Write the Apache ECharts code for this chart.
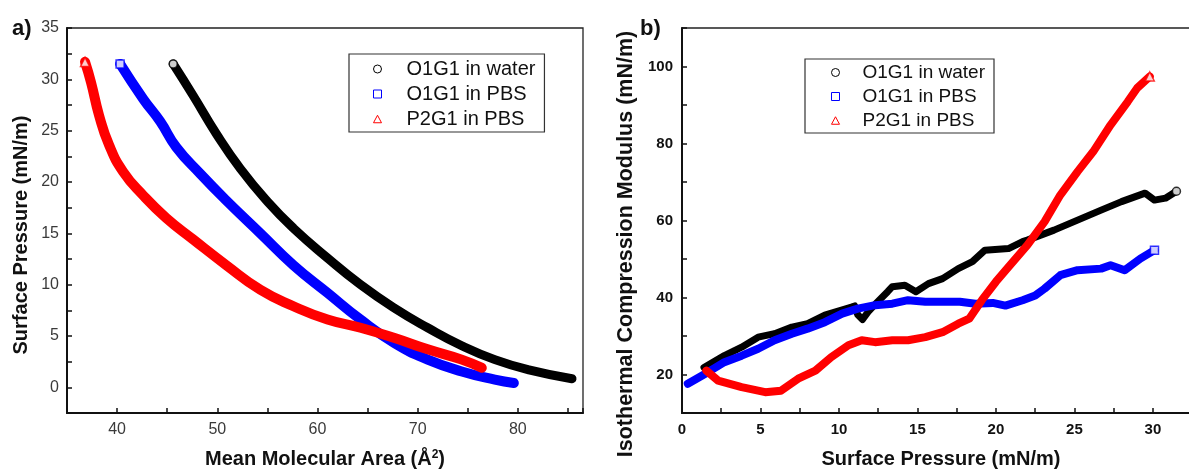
<!DOCTYPE html>
<html>
<head>
<meta charset="utf-8">
<script src="https://cdn.jsdelivr.net/npm/echarts@6/dist/echarts.min.js"></script>
<style>
  html, body { margin: 0; padding: 0; background: #ffffff; }
  #chart { width: 1189px; height: 471px; }
</style>
</head>
<body>
<div id="chart"></div>
<script>
// Sample names and colours (shared by both panels)
const seriesNames = ['O1G1 in water', 'O1G1 in PBS', 'P2G1 in PBS'];
const seriesColors = ['#000000', '#0000ff', '#ff0000'];
const endSymbols = ['circle', 'rect', 'triangle'];

// a) Compression isotherms: [mean molecular area (Å²), surface pressure (mN/m)]
const isoWater = [[85.4,0.84],[81.1,1.7],[77.7,2.7],[74.4,4.05],[71.0,5.8],[67.7,7.7],[64.3,10.0],[61.0,12.6],[57.6,15.5],[55.0,18.1],[52.3,21.3],[49.9,24.7],[47.6,28.4],[45.6,31.5]];
const isoPBS = [[79.6,0.42],[77.7,0.75],[74.4,1.55],[71.0,2.7],[67.7,4.3],[64.3,6.6],[61.0,9.2],[57.6,11.9],[54.3,15.0],[50.9,18.2],[48.3,20.8],[45.9,23.4],[44.3,25.9],[42.6,28.1],[40.3,31.5]];
const isoP2G1 = [[76.4,1.9],[74.4,2.7],[71.0,3.7],[67.7,4.8],[64.3,5.8],[61.0,6.6],[57.6,7.9],[54.3,9.5],[50.9,11.9],[47.6,14.4],[44.9,16.5],[42.6,18.7],[40.6,21.0],[39.2,23.6],[38.2,26.5],[37.4,29.7],[36.8,31.7]];

// b) Isothermal compression modulus: [surface pressure (mN/m), modulus (mN/m)]
const modWater = [[1.4,21.8],[2.7,24.9],[3.8,27.1],[4.85,29.7],[5.9,30.6],[7.0,32.3],[8.0,33.2],[9.1,35.4],[10.8,37.5],[11.0,37.8],[11.2,35.5],[11.5,34.3],[11.9,36.5],[12.3,38.2],[13.1,41.5],[13.4,42.8],[14.2,43.2],[14.9,41.5],[15.7,43.6],[16.6,44.9],[17.6,47.5],[18.5,49.3],[19.3,52.3],[20.8,52.7],[21.7,54.5],[22.0,54.9],[23.7,57.5],[25.2,60.1],[26.7,62.7],[28.0,64.9],[29.5,67.1],[30.1,65.3],[30.8,65.8],[31.5,67.6]];
const modPBS = [[0.37,17.6],[1.65,20.6],[2.7,23.2],[3.8,24.9],[4.85,26.7],[5.9,28.9],[7.0,30.6],[8.0,31.9],[9.1,33.6],[10.2,35.8],[11.2,37.1],[12.3,38.0],[13.4,38.4],[14.4,39.3],[15.5,38.9],[16.6,38.9],[17.7,38.9],[18.7,38.4],[19.8,38.6],[20.6,37.9],[21.7,39.3],[22.5,40.5],[23.1,42.3],[24.1,45.8],[25.2,47.1],[26.7,47.5],[27.3,48.4],[28.2,47.1],[29.2,50.1],[30.1,52.3]];
const modP2G1 = [[1.55,21.0],[2.3,18.4],[3.8,16.7],[5.3,15.4],[6.3,15.8],[7.4,18.9],[8.5,21.0],[9.5,24.5],[10.6,27.6],[11.45,28.9],[12.3,28.4],[13.4,28.9],[14.4,28.9],[15.5,29.7],[16.6,31.0],[17.6,33.2],[18.3,34.5],[19.1,39.3],[20.0,44.1],[20.9,48.4],[22.0,53.6],[23.1,59.7],[24.1,66.6],[25.2,72.7],[26.2,77.9],[27.3,84.8],[28.4,90.9],[29.0,94.4],[29.8,97.4]];

// Axis tick settings
const isoAreaTicks = { min: 35, max: 86.5, step: 5, labelEvery: 10 };
const isoPressureTicks = { min: -2.5, max: 35, step: 2.5, labelEvery: 5 };
const modPressureTicks = { min: 0, max: 33, step: 5 };
const modModulusTicks = { min: 10, max: 110, step: 10, labelEvery: 20 };

const isoSets = [isoWater, isoPBS, isoP2G1];
const modSets = [modWater, modPBS, modP2G1];

const FONT = 'Liberation Sans, Arial, sans-serif';

// Legend icons drawn as outlines in an 8x8 box
const iconPaths = {
  circle: 'path://M0,4A4,4,0,1,1,8,4A4,4,0,1,1,0,4Z',
  rect: 'path://M0,0L8,0L8,8L0,8Z',
  triangle: 'path://M4,0L8,7.5L0,7.5Z'
};

function everyLabel(n) {
  return function (v) {
    const r = Math.abs(v / n - Math.round(v / n));
    return r < 1e-6 ? String(Math.round(v * 100) / 100) : '';
  };
}

function axisBase(boldLabels, labelSize) {
  return {
    type: 'value',
    splitLine: { show: false },
    axisLine: { show: true, onZero: false, lineStyle: { color: '#111', width: 2 } },
    axisTick: { show: true, inside: true, length: 5, lineStyle: { color: '#111', width: 1.5 } },
    axisLabel: {
      color: boldLabels ? '#111' : '#3a3a3a',
      fontFamily: FONT,
      fontSize: labelSize,
      fontWeight: boldLabels ? 'bold' : 'normal'
    },
    nameTextStyle: { fontFamily: FONT, fontSize: 20, fontWeight: 'bold', color: '#111' }
  };
}

function lineSeries(data, i, axisIdx, width, smooth) {
  return {
    name: seriesNames[i],
    type: 'line',
    xAxisIndex: axisIdx,
    yAxisIndex: axisIdx,
    data: data,
    smooth: smooth,
    showSymbol: false,
    symbol: 'none',
    silent: true,
    lineStyle: { color: seriesColors[i], width: width, cap: 'round', join: 'round' },
    itemStyle: { color: seriesColors[i] },
    z: 2 + i
  };
}

function endMarker(data, i, axisIdx) {
  return {
    name: seriesNames[i],
    type: 'scatter',
    xAxisIndex: axisIdx,
    yAxisIndex: axisIdx,
    data: [data[data.length - 1]],
    symbol: endSymbols[i],
    symbolSize: i === 2 ? 9 : 8,
    silent: true,
    itemStyle: { color: '#ffffff', borderColor: seriesColors[i], borderWidth: 1.5 },
    z: 10
  };
}

function legendFor(left, top, fontSize, padding, textPad) {
  return {
    left: left,
    top: top,
    orient: 'vertical',
    selectedMode: false,
    backgroundColor: '#ffffff',
    borderColor: '#333333',
    borderWidth: 1.2,
    padding: padding,
    itemGap: 5,
    itemWidth: 8,
    itemHeight: 8,
    symbolKeepAspect: true,
    textStyle: {
      fontFamily: FONT,
      fontSize: fontSize,
      lineHeight: fontSize,
      color: '#111',
      padding: [0, 0, 0, textPad]
    },
    data: seriesNames.map(function (n, i) {
      return {
        name: n,
        icon: iconPaths[endSymbols[i]],
        itemStyle: { color: '#ffffff', borderColor: seriesColors[i], borderWidth: 1 }
      };
    })
  };
}

const isoX = Object.assign(axisBase(false, 16), {
  gridIndex: 0,
  min: isoAreaTicks.min, max: isoAreaTicks.max, interval: isoAreaTicks.step,
  name: 'Mean Molecular Area (Å{sup|2})',
  nameLocation: 'middle',
  nameGap: 36
});
isoX.axisLabel.formatter = everyLabel(isoAreaTicks.labelEvery);
isoX.axisLabel.margin = 9;
isoX.nameTextStyle.rich = {
  sup: { fontFamily: FONT, fontSize: 12, fontWeight: 'bold', color: '#111', verticalAlign: 'top', padding: [0, 0, 8, 0] }
};

const isoY = Object.assign(axisBase(false, 16), {
  gridIndex: 0,
  min: isoPressureTicks.min, max: isoPressureTicks.max, interval: isoPressureTicks.step,
  name: 'Surface Pressure (mN/m)',
  nameLocation: 'middle',
  nameGap: 36
});
isoY.axisLabel.formatter = everyLabel(isoPressureTicks.labelEvery);
isoY.axisLabel.margin = 8;
// shift the rotated title a little toward the bottom of the axis
isoY.nameTextStyle.padding = [0, 29, 0, 0];

const modX = Object.assign(axisBase(true, 15), {
  gridIndex: 1,
  min: modPressureTicks.min, max: modPressureTicks.max, interval: modPressureTicks.step,
  minorTick: { show: true, splitNumber: 2, length: 5, lineStyle: { color: '#111', width: 1.5 } },
  name: 'Surface Pressure (mN/m)',
  nameLocation: 'middle',
  nameGap: 36
});
modX.axisLabel.showMaxLabel = false;
modX.axisLabel.margin = 9;
modX.minorTick.inside = true;

const modY = Object.assign(axisBase(true, 15), {
  gridIndex: 1,
  min: modModulusTicks.min, max: modModulusTicks.max, interval: modModulusTicks.step,
  name: 'Isothermal Compression Modulus (mN/m)',
  nameLocation: 'middle',
  nameGap: 45
});
modY.axisLabel.formatter = function (v) {
  return (v % modModulusTicks.labelEvery === 0 && v > modModulusTicks.min && v < modModulusTicks.max) ? String(v) : '';
};
modY.axisLabel.margin = 9;
modY.nameTextStyle.fontSize = 21.5;
modY.nameTextStyle.padding = [0, 47, 0, 0];

const series = [];
isoSets.forEach(function (d, i) { series.push(lineSeries(d, i, 0, i === 0 ? 9 : 10, true)); });
modSets.forEach(function (d, i) { series.push(lineSeries(d, i, 1, i === 0 ? 7 : 8, false)); });
isoSets.forEach(function (d, i) { series.push(endMarker(d, i, 0)); });
modSets.forEach(function (d, i) { series.push(endMarker(d, i, 1)); });

const gridBase = { top: 28, height: 385, show: true, borderColor: '#222', borderWidth: 1.3, backgroundColor: 'transparent', containLabel: false, outerBoundsMode: 'none' };

const chart = echarts.init(document.getElementById('chart'), null, { renderer: 'canvas' });
chart.setOption({
  animation: false,
  backgroundColor: '#ffffff',
  title: [
    { text: 'a)', left: 12, top: 18, textStyle: { fontFamily: FONT, fontSize: 22, fontWeight: 'bold', color: '#111' }, padding: 0 },
    { text: 'b)', left: 640, top: 18, textStyle: { fontFamily: FONT, fontSize: 22, fontWeight: 'bold', color: '#111' }, padding: 0 }
  ],
  grid: [
    Object.assign({ left: 67, width: 516 }, gridBase),
    Object.assign({ left: 682, width: 518 }, gridBase)
  ],
  xAxis: [isoX, modX],
  yAxis: [isoY, modY],
  legend: [
    legendFor(349, 54, 20, [5, 9, 3, 24], 20),
    legendFor(805, 59, 19, [4, 9, 3, 26], 18)
  ],
  series: series
});
</script>
</body>
</html>
